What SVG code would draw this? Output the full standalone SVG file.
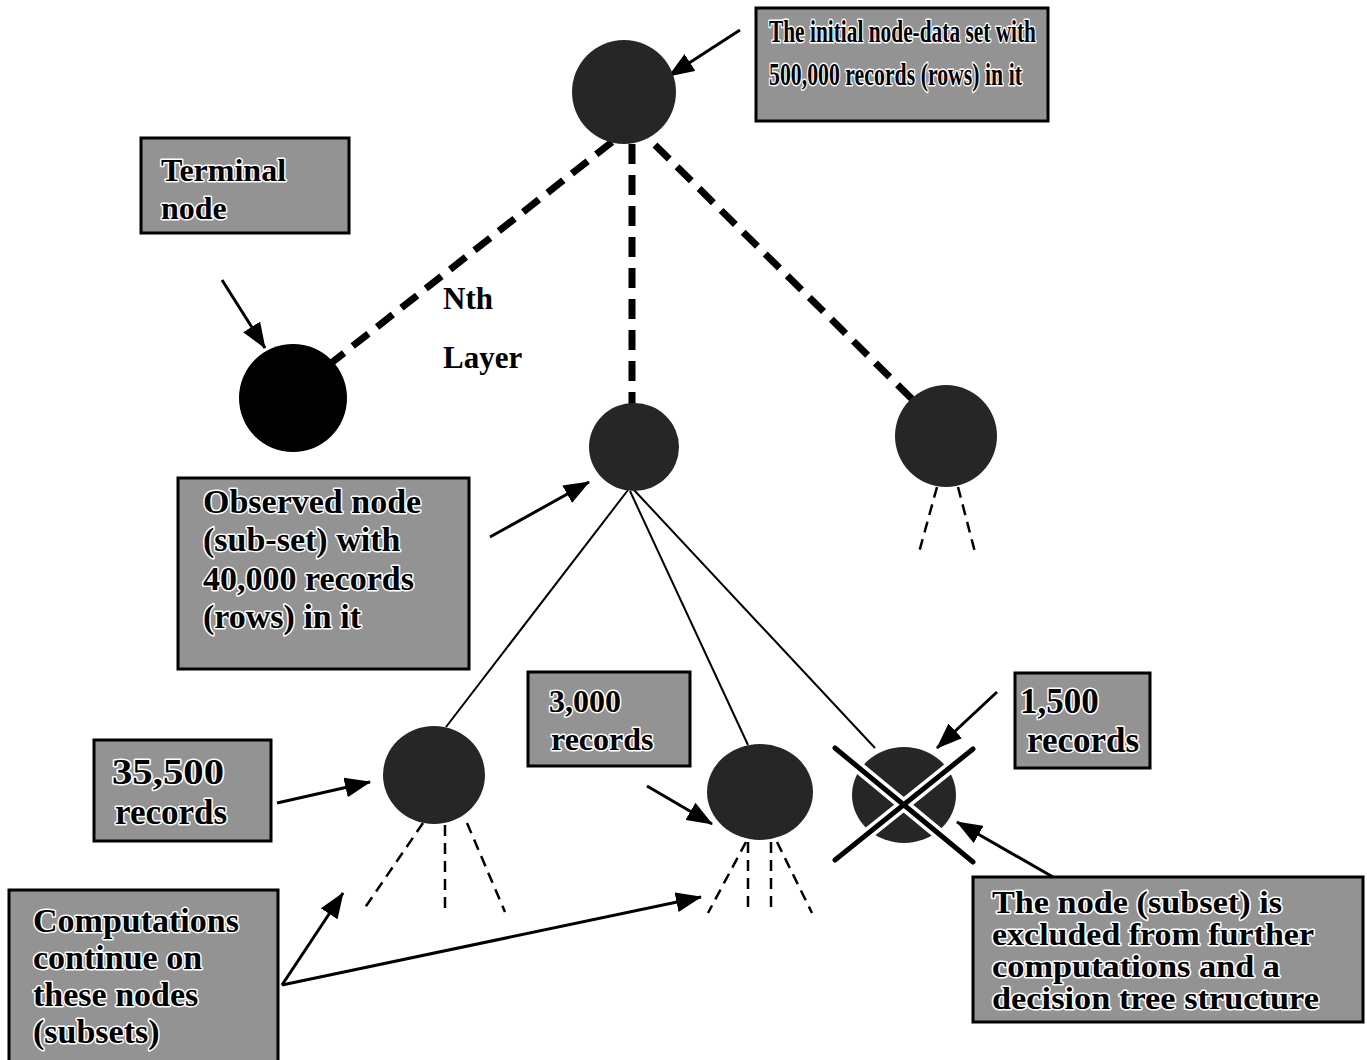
<svg xmlns="http://www.w3.org/2000/svg" width="1367" height="1060" viewBox="0 0 1367 1060">
  <defs>
    <style>
      .box { fill: #939393; stroke: #000; stroke-width: 3; }
      .lbl { font-family: "Liberation Serif", "Times New Roman", serif; font-weight: bold; fill: #000; stroke: #fff; stroke-width: 3; paint-order: stroke; stroke-linejoin: round; }
      .plain { font-family: "Liberation Serif", "Times New Roman", serif; font-weight: bold; fill: #000; font-size: 31px; }
      .node { fill: #262626; }
      .term { fill: #000; }
      .thick { stroke: #000; stroke-width: 7; stroke-dasharray: 20 11; fill: none; }
      .thin { stroke: #000; stroke-width: 2.5; stroke-dasharray: 11 7; fill: none; }
      .edge { stroke: #000; stroke-width: 2; fill: none; }
      .ptr { stroke: #000; stroke-width: 3; fill: none; marker-end: url(#ah); }
      .cross { stroke-linecap: round; fill: none; }
    </style>
    <marker id="ah" markerUnits="userSpaceOnUse" markerWidth="26" markerHeight="20" refX="25" refY="10" orient="auto">
      <path d="M0,0 L26,10 L0,20 z" fill="#000"/>
    </marker>
  </defs>

  <rect width="1367" height="1060" fill="#fff"/>

  <!-- tree edges and pointer arrows -->
  <g id="connectors">
    <line class="thick" x1="612" y1="142" x2="330" y2="364"/>
    <line class="thick" x1="632" y1="144" x2="632" y2="404"/>
    <line class="thick" x1="655" y1="145" x2="915" y2="402"/>

    <line class="thin" x1="937" y1="487" x2="918" y2="556"/>
    <line class="thin" x1="958" y1="487" x2="976" y2="556"/>

    <line class="edge" x1="628" y1="490" x2="446" y2="727"/>
    <line class="edge" x1="630" y1="491" x2="748" y2="745"/>
    <line class="edge" x1="634" y1="490" x2="875" y2="748"/>

    <line class="thin" x1="423" y1="823" x2="362" y2="912"/>
    <line class="thin" x1="445" y1="825" x2="445" y2="912"/>
    <line class="thin" x1="467" y1="823" x2="505" y2="912"/>

    <line class="thin" x1="746" y1="842" x2="708" y2="913"/>
    <line class="thin" x1="748" y1="842" x2="748" y2="913"/>
    <line class="thin" x1="771" y1="842" x2="771" y2="913"/>
    <line class="thin" x1="777" y1="842" x2="812" y2="913"/>

    <line class="ptr" x1="740" y1="30" x2="669" y2="76"/>
    <line class="ptr" x1="222" y1="280" x2="265" y2="348"/>
    <line class="ptr" x1="490" y1="537" x2="589" y2="482"/>
    <line class="ptr" x1="277" y1="803" x2="370" y2="782"/>
    <line class="ptr" x1="647" y1="786" x2="712" y2="824"/>
    <line class="ptr" x1="997" y1="692" x2="937" y2="748"/>
    <line class="ptr" x1="1053" y1="877" x2="957" y2="822"/>
    <line class="ptr" x1="282" y1="985" x2="343" y2="893"/>
    <line class="ptr" x1="282" y1="985" x2="701" y2="897"/>
  </g>

  <!-- tree nodes -->
  <g id="node-root"><circle class="node" cx="624" cy="92" r="52"/></g>
  <g id="node-terminal"><circle class="term" cx="293" cy="398" r="54"/></g>
  <g id="node-observed"><ellipse class="node" cx="634" cy="447" rx="45" ry="44"/></g>
  <g id="node-right"><circle class="node" cx="946" cy="436" r="51"/></g>
  <g id="node-35500"><ellipse class="node" cx="434" cy="775" rx="51" ry="49"/></g>
  <g id="node-3000"><ellipse class="node" cx="760" cy="792" rx="53" ry="48"/></g>
  <g id="node-excluded">
    <ellipse class="node" cx="904" cy="795" rx="52" ry="48"/>
    <line class="cross" stroke="#fff" stroke-width="12" x1="835" y1="748" x2="973" y2="862"/>
    <line class="cross" stroke="#fff" stroke-width="12" x1="973" y1="749" x2="835" y2="860"/>
    <line class="cross" stroke="#000" stroke-width="5" x1="835" y1="748" x2="973" y2="862"/>
    <line class="cross" stroke="#000" stroke-width="5" x1="973" y1="749" x2="835" y2="860"/>
  </g>

  <!-- label boxes -->
  <g id="label-initial">
    <rect class="box" x="756" y="8" width="292" height="113"/>
    <text class="lbl" font-size="31" x="769" y="42" textLength="267" lengthAdjust="spacingAndGlyphs">The initial node-data set with</text>
    <text class="lbl" font-size="31" x="769" y="85" textLength="253" lengthAdjust="spacingAndGlyphs">500,000 records (rows) in it</text>
  </g>

  <g id="label-terminal">
    <rect class="box" x="141" y="138" width="208" height="95"/>
    <text class="lbl" font-size="32" x="161" y="181">Terminal</text>
    <text class="lbl" font-size="32" x="161" y="219">node</text>
  </g>

  <g id="label-layer">
    <text class="plain" x="443" y="309">Nth</text>
    <text class="plain" x="443" y="368">Layer</text>
  </g>

  <g id="label-observed">
    <rect class="box" x="178" y="478" width="291" height="191"/>
    <text class="lbl" font-size="34" x="203" y="513">Observed node</text>
    <text class="lbl" font-size="34" x="203" y="551">(sub-set) with</text>
    <text class="lbl" font-size="34" x="203" y="590">40,000 records</text>
    <text class="lbl" font-size="34" x="203" y="628">(rows) in it</text>
  </g>

  <g id="label-35500">
    <rect class="box" x="94" y="740" width="177" height="101"/>
    <text class="lbl" font-size="36" x="112" y="784" textLength="112" lengthAdjust="spacingAndGlyphs">35,500</text>
    <text class="lbl" font-size="35" x="115" y="824">records</text>
  </g>

  <g id="label-3000">
    <rect class="box" x="528" y="672" width="162" height="94"/>
    <text class="lbl" font-size="32" x="549" y="712">3,000</text>
    <text class="lbl" font-size="32" x="551" y="750">records</text>
  </g>

  <g id="label-1500">
    <rect class="box" x="1015" y="673" width="135" height="95"/>
    <text class="lbl" font-size="35" x="1020" y="713">1,500</text>
    <text class="lbl" font-size="35" x="1027" y="752">records</text>
  </g>

  <g id="label-excluded">
    <rect class="box" x="973" y="877" width="390" height="145"/>
    <text class="lbl" font-size="31" x="992" y="913" textLength="290" lengthAdjust="spacingAndGlyphs">The node (subset) is</text>
    <text class="lbl" font-size="31" x="992" y="945" textLength="322" lengthAdjust="spacingAndGlyphs">excluded from further</text>
    <text class="lbl" font-size="31" x="992" y="977" textLength="288" lengthAdjust="spacingAndGlyphs">computations and a</text>
    <text class="lbl" font-size="31" x="992" y="1009" textLength="327" lengthAdjust="spacingAndGlyphs">decision tree structure</text>
  </g>

  <g id="label-continue">
    <rect class="box" x="9" y="890" width="269" height="175"/>
    <text class="lbl" font-size="34" x="33" y="932">Computations</text>
    <text class="lbl" font-size="34" x="33" y="969">continue on</text>
    <text class="lbl" font-size="34" x="33" y="1006">these nodes</text>
    <text class="lbl" font-size="34" x="33" y="1043">(subsets)</text>
  </g>
</svg>
